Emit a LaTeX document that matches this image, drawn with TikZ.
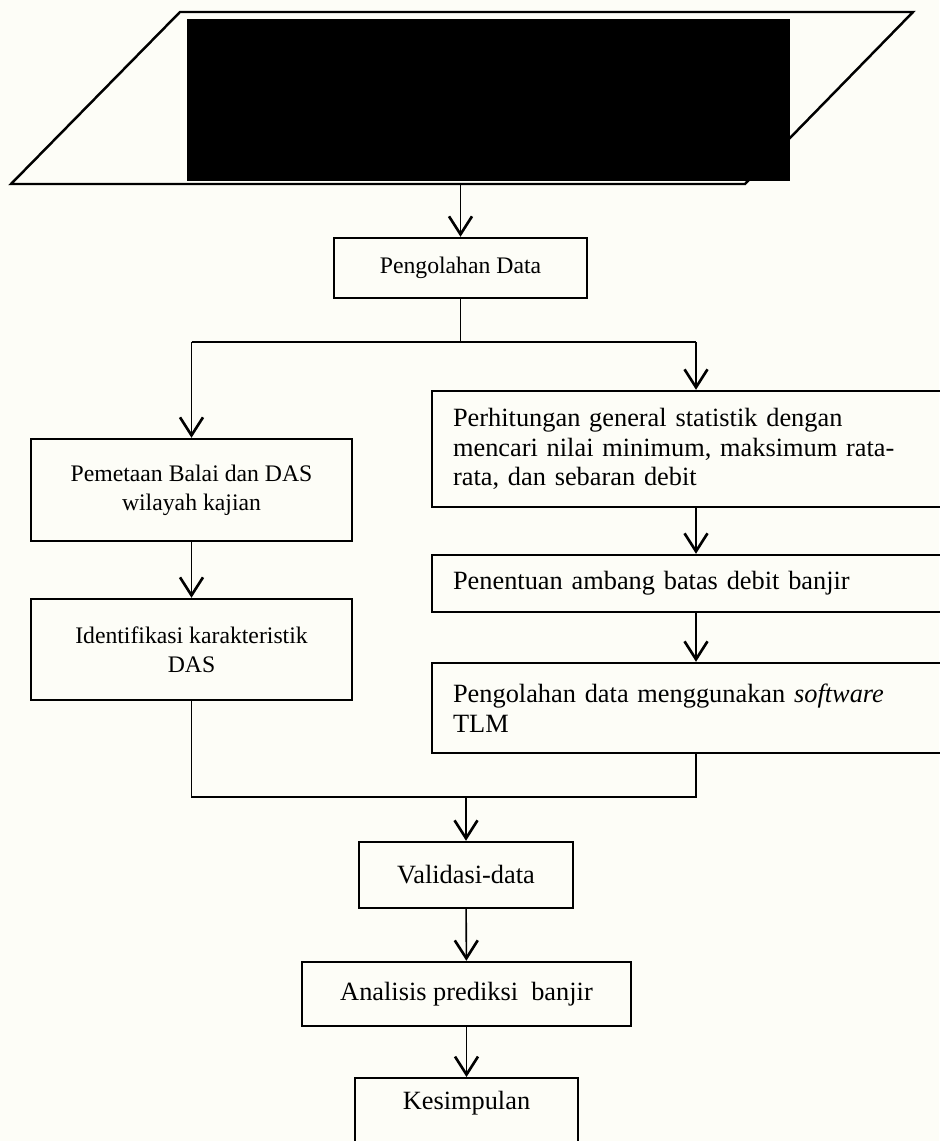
\documentclass[tikz,border=0pt]{standalone}
\usepackage{fontspec}
\setmainfont{Liberation Serif}
\usetikzlibrary{arrows.meta}

\definecolor{kertas}{RGB}{253,253,247}

\tikzset{
	kotak/.style={draw, rectangle, line width=1.4pt, inner sep=0pt, align=center, font=\fontsize{15}{17}\selectfont},
	kotakkecil/.style={kotak, font=\fontsize{13.5}{16.5}\selectfont},
	kotakkanan/.style={kotak, align=left, inner xsep=0.42cm, text width=9.72cm, minimum width=10.56cm},
	garis/.style={line width=0.9pt},
	panah/.style={garis, -{Straight Barb[length=3.6mm, width=4.6mm, line width=1.5pt]}}
}

\begin{document}
\begin{tikzpicture}[x=0.02cm, y=-0.02cm]
		\fill[kertas] (0,0) rectangle (939,1141);
		\useasboundingbox (0,0) rectangle (939,1141);
		% input data (ditutup)
		\draw[line width=1.4pt] (180,12) -- (913,12) -- (745,184) -- (11,184) -- cycle;
		\fill[black] (187,19) rectangle (790,181);
		\coordinate (masukan) at (462,184);
		% kotak-kotak
		\node[kotakkecil, minimum width=5.06cm, minimum height=1.2cm] (olah) at (460.5,268) {Pengolahan Data};
		\node[kotakkecil, minimum width=6.42cm, minimum height=2.04cm] (peta) at (191.5,490) {Pemetaan Balai dan DAS\\wilayah kajian};
		\node[kotakkecil, minimum width=6.42cm, minimum height=2.02cm] (identifikasi) at (191.5,649.5) {Identifikasi karakteristik\\DAS};
		\node[kotakkanan, minimum height=2.32cm] (hitung) at (696,449) {Perhitungan general statistik dengan\\mencari nilai minimum, maksimum rata-\\rata, dan sebaran debit};
		\node[kotakkanan, minimum height=1.14cm] (ambang) at (696,583.5) {Penentuan ambang batas debit banjir};
		\node[kotakkanan, minimum height=1.8cm] (tlm) at (696,708) {Pengolahan data menggunakan \textit{software}\\TLM};
		\node[kotak, minimum width=4.28cm, minimum height=1.32cm] (validasi) at (466,875) {Validasi-data};
		\node[kotak, minimum width=6.58cm, minimum height=1.28cm] (analisis) at (466.5,994) {Analisis prediksi\ \ banjir};
		\node[kotak, anchor=north, minimum width=4.46cm, inner ysep=0.32cm, text height=0.3cm, text depth=1.1cm] (simpul) at (466.5,1077) {Kesimpulan};
		% penghubung
		\coordinate (atas) at (0,342);
		\coordinate (bawah) at (0,797);
		\draw[panah] (masukan) -- (olah.north |- masukan) -- (olah.north);
		\draw[garis] (olah.south) -- (olah.south |- atas);
		\draw[garis] (peta.north |- atas) -- (hitung.north |- atas);
		\draw[panah] (peta.north |- atas) -- (peta.north);
		\draw[panah] (hitung.north |- atas) -- (hitung.north);
		\draw[panah] (peta) -- (identifikasi);
		\draw[panah] (hitung) -- (ambang);
		\draw[panah] (ambang) -- (tlm);
		\draw[garis] (identifikasi.south) -- (identifikasi.south |- bawah) -- (tlm.south |- bawah) -- (tlm.south);
		\draw[panah] (validasi.north |- bawah) -- (validasi.north);
		\draw[panah] (validasi) -- (analisis);
		\draw[panah] (analisis) -- (simpul);
\end{tikzpicture}
\end{document}
